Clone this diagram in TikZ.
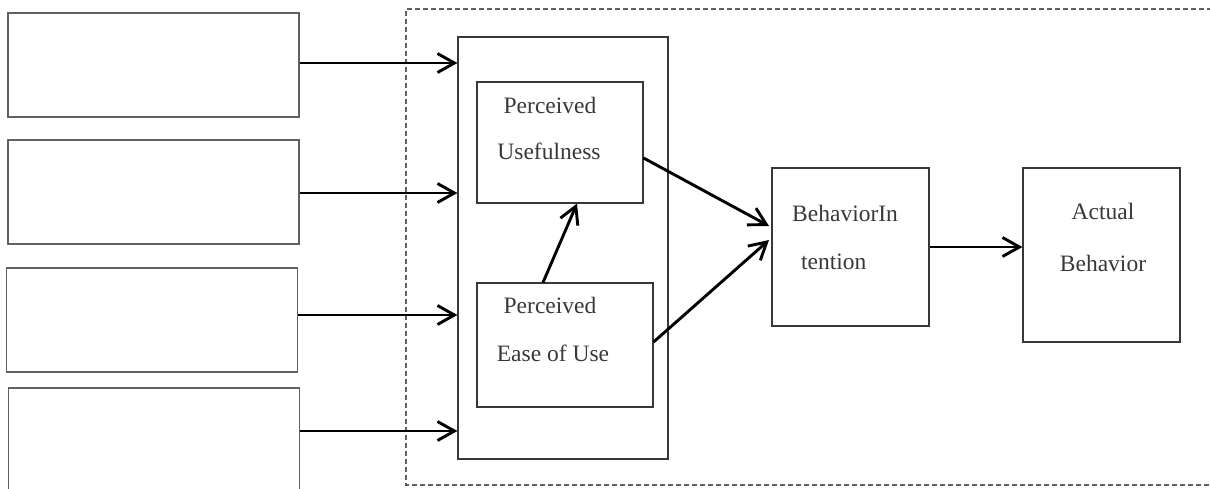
\documentclass[tikz,border=0pt]{standalone}
\usepackage{fontspec}
\setmainfont{Liberation Serif}
\usepackage{xcolor}
\usepackage{tikz}
\usetikzlibrary{arrows.meta,calc}

\definecolor{boxgray}{HTML}{383838}
\definecolor{sidegray}{HTML}{606060}
\definecolor{txtgray}{HTML}{383838}

\tikzset{
  box/.style={draw=boxgray, line width=1.1pt, inner sep=0pt},
  sidebox/.style={draw=sidegray, line width=1.7pt, inner sep=0pt,
    minimum width=291pt, minimum height=104pt},
  lab/.style={anchor=base, text=txtgray, inner sep=0pt,
    font=\fontsize{23.5}{28}\selectfont},
  link/.style={line width=2.9pt, -{Straight Barb[length=17pt,width=19pt,line width=2.9pt]}}
}

\begin{document}
\begin{tikzpicture}[x=1pt,y=-1pt]
\useasboundingbox (0,0) rectangle (1210,488);
\clip (0,0) rectangle (1210,488);

%dashed frame, its right side is cut off
\draw[sidegray, line width=1.2pt, dash pattern=on 5pt off 3pt] (1220,9) -- (406,9) -- (406,485) -- (1220,485);

\node[box, minimum width=210pt, minimum height=422pt] (big) at (563,248) {};
\node[box, minimum width=166pt, minimum height=121pt] (pu) at (560,142.5) {};
\node[box, minimum width=176pt, minimum height=124pt] (peou) at (565,345) {};
\node[box, minimum width=157pt, minimum height=158pt] (bi) at (850.5,247) {};
\node[box, minimum width=157pt, minimum height=174pt] (ab) at (1101.5,255) {};

\node[lab] (pu1) at (550,113) {Perceived};
\node[lab] (pu2) at (549,159) {Usefulness};
\node[lab] (peou1) at (550,313) {Perceived};
\node[lab] (peou2) at (553,361) {Ease of Use};
\node[lab, anchor=base west] (bi1) at (792,221) {BehaviorIn};
\node[lab, anchor=base west] (bi2) at (801,269) {tention};
\node[lab] (ab1) at (1103,219) {Actual};
\node[lab] (ab2) at (1103,271) {Behavior};

% four empty boxes on the left
\foreach \i/\cx/\cy/\ay in {1/153.5/65/63, 2/153.5/192/193, 3/152/320/315, 4/154/440/431}{
  \node[sidebox] (ext\i) at (\cx,\cy) {};
  \draw[link] (ext\i.east |- 0,\ay) -- (big.west |- 0,\ay);
}

\draw[link] (peou.north -| 543,0) -- (pu.south -| 577,0);
\draw[link] (pu.east |- 0,158) -- (769,226) coordinate (bitop);
\draw[link] (peou.east |- 0,342) -- (769,240) coordinate (bibot);
\draw[link] (bi.east) -- (ab.west |- bi.east);
\end{tikzpicture}
\end{document}
